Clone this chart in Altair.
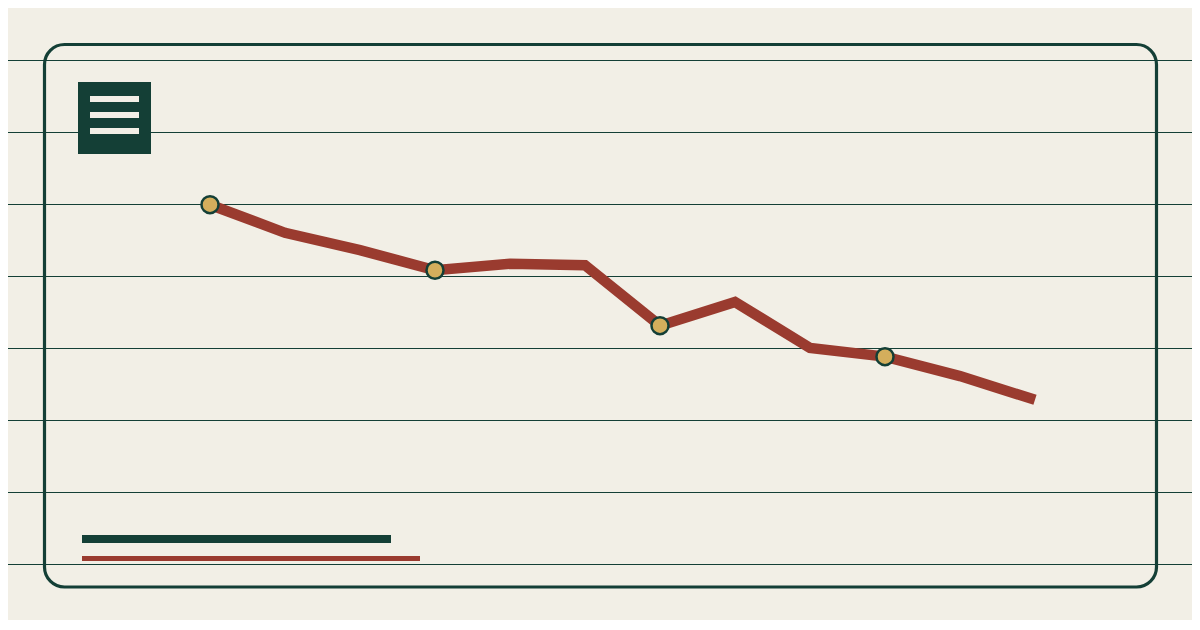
import altair as alt
import pandas as pd

# ---- data ----
steps = list(range(12))
values = [49.9, 46.0, 43.6, 40.8, 41.7, 41.5, 33.1, 36.4, 30.0, 28.8, 26.1, 22.8]
marked = [0, 3, 6, 9]
grid_values = [0, 10, 20, 30, 40, 50, 60, 70]

BG = "#F2EFE6"
GREEN = "#143F36"
RED = "#9A3B2F"
GOLD = "#D4AE5C"

W, H = 1184, 612

df = pd.DataFrame({"step": steps, "value": values})
df["marked"] = df["step"].isin(marked)
grid_df = pd.DataFrame({"g": grid_values})
one = pd.DataFrame({"k": [0]})

xs = alt.Scale(domain=[0, 11], range=[202, 1027])
ys = alt.Scale(domain=[0, 70], range=[556, 52])

grid = alt.Chart(grid_df).mark_rule(color=GREEN, strokeWidth=1, yOffset=0.5).encode(
    y=alt.Y("g:Q", scale=ys, axis=None),
    x=alt.value(-10),
    x2=alt.value(W + 10),
)

frame = alt.Chart(one).mark_rect(
    fill=None, fillOpacity=0, stroke=GREEN, strokeWidth=3.2, cornerRadius=20
).encode(
    x=alt.value(36.5), x2=alt.value(1148.5), y=alt.value(36.5), y2=alt.value(579)
)

icon = alt.Chart(one).mark_rect(color=GREEN).encode(
    x=alt.value(70), x2=alt.value(143), y=alt.value(74), y2=alt.value(146)
)

bars = []
for y0 in (88, 104, 120):
    bars.append(
        alt.Chart(one).mark_rect(color=BG).encode(
            x=alt.value(82), x2=alt.value(131), y=alt.value(y0), y2=alt.value(y0 + 6)
        )
    )

legend_dark = alt.Chart(one).mark_rect(color=GREEN).encode(
    x=alt.value(74), x2=alt.value(383), y=alt.value(527), y2=alt.value(535)
)
legend_red = alt.Chart(one).mark_rect(color=RED).encode(
    x=alt.value(74), x2=alt.value(412), y=alt.value(548), y2=alt.value(553)
)

line = alt.Chart(df).mark_line(
    color=RED, strokeWidth=10.5, strokeCap="butt", strokeJoin="miter"
).encode(
    x=alt.X("step:Q", scale=xs, axis=None),
    y=alt.Y("value:Q", scale=ys, axis=None),
)

points = alt.Chart(df).transform_filter("datum.marked").mark_point(
    filled=True, fill=GOLD, stroke=GREEN, strokeWidth=2.5, size=290, opacity=1, shape="circle"
).encode(
    x=alt.X("step:Q", scale=xs, axis=None),
    y=alt.Y("value:Q", scale=ys, axis=None),
)

chart = alt.layer(
    grid, frame, icon, *bars, legend_dark, legend_red, line, points
).properties(
    width=W, height=H, background=BG, padding=0, autosize=alt.AutoSizeParams(type="none")
).configure_view(stroke=None)

chart.save("out.html", embed_options={"renderer": "svg", "actions": False})
